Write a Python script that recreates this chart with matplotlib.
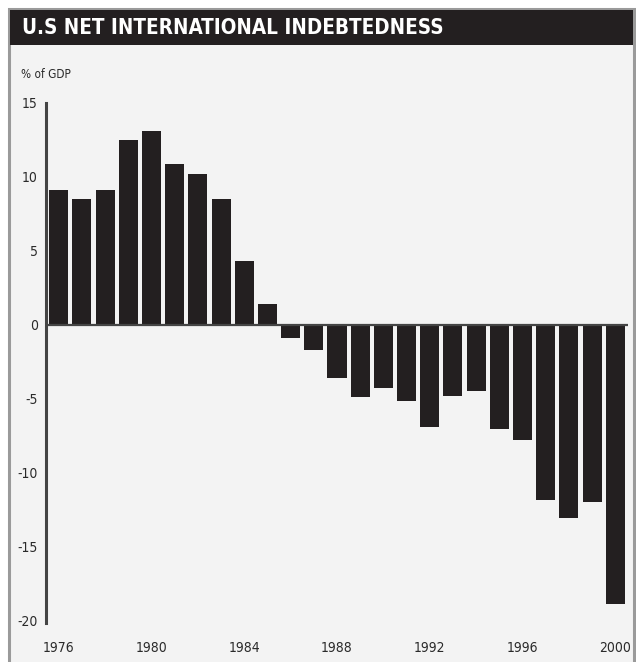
import matplotlib
matplotlib.use("Agg")
import matplotlib.pyplot as plt
import matplotlib.patches as mpatches

# --- data ---
years = list(range(1976, 2001))
values = [9.1, 8.5, 9.1, 12.5, 13.1, 10.9, 10.2, 8.5, 4.3, 1.4,
          -0.9, -1.7, -3.6, -4.9, -4.3, -5.2, -6.9, -4.8, -4.5, -7.1,
          -7.8, -11.9, -13.1, -12.0, -18.9]
year_ticks = [1976, 1980, 1984, 1988, 1992, 1996, 2000]
y_ticks = [-20, -15, -10, -5, 0, 5, 10, 15]

title = "U.S NET INTERNATIONAL INDEBTEDNESS"
unit_label = "% of GDP"

BG = "#f3f3f3"
INK = "#231f20"
FRAME = "#9a9a9a"
TEXT = "#2a2a2a"
FONT = ["DejaVu Sans"]

W, H = 636, 662
fig = plt.figure(figsize=(W / 100, H / 100), dpi=100)
fig.patch.set_facecolor("white")


def fx(px):
    return px / W


def fy(py):
    return 1 - py / H


# --- frame, background and title bar (frame runs off the bottom edge) ---
fig.patches.append(mpatches.Rectangle((fx(9), fy(680)), fx(625), 671 / H,
                                      transform=fig.transFigure, facecolor=BG,
                                      edgecolor=FRAME, linewidth=2.2, zorder=-5))
fig.patches.append(mpatches.Rectangle((fx(10), fy(45)), fx(623), 35 / H,
                                      transform=fig.transFigure, facecolor=INK,
                                      edgecolor="none", zorder=-4))
fig.text(fx(22), fy(28), title, color="white", fontsize=14.8, fontweight="bold",
         family=FONT, fontstretch="condensed", va="center", ha="left")
fig.text(fx(21), fy(74), unit_label, color=TEXT, fontsize=8.5,
         family=FONT, fontstretch="condensed", va="center", ha="left")

# --- bars ---
ax = fig.add_axes([fx(46), fy(623), fx(628) - fx(46), fy(103) - fy(623)])
ax.set_facecolor("none")
x = list(range(len(years)))
ax.bar(x, values, width=0.82, color=INK, zorder=2)
ax.axhline(0, color="#444444", linewidth=1.6, zorder=3)

ax.set_xlim(-0.55, len(years) - 0.45)
ax.set_ylim(-20.2, 15)
ax.set_yticks(y_ticks)
ax.set_yticklabels([str(v) for v in y_ticks])
ax.set_xticks([years.index(y) for y in year_ticks])
ax.set_xticklabels([str(y) for y in year_ticks])
ax.tick_params(axis="both", length=0, labelsize=10, colors=TEXT)
ax.tick_params(axis="x", pad=13)
ax.tick_params(axis="y", pad=6)
for lab in ax.get_xticklabels() + ax.get_yticklabels():
    lab.set_family(FONT)
    lab.set_stretch("condensed")

for side in ("top", "right", "bottom"):
    ax.spines[side].set_visible(False)
ax.spines["left"].set_color("#444444")
ax.spines["left"].set_linewidth(2.2)

fig.savefig("out.png", dpi=100, facecolor="white")
